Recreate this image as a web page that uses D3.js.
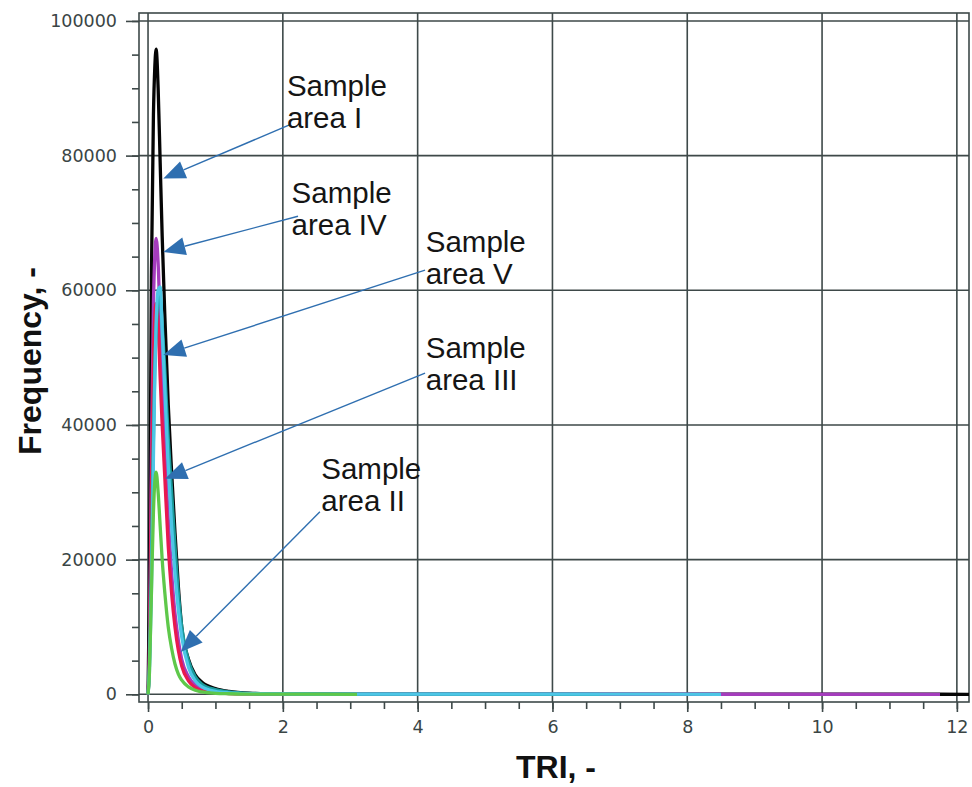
<!DOCTYPE html>
<html>
<head>
<meta charset="utf-8">
<script src="https://cdn.jsdelivr.net/npm/d3@7"></script>
<style>
  html, body { margin: 0; padding: 0; background: #fff; }
  svg { display: block; }
</style>
</head>
<body>
<svg id="chart" width="972" height="787"></svg>
<script>
// ---------------- DATA ----------------
const tri = [0, 0.02, 0.05, 0.08, 0.1, 0.12, 0.15, 0.18, 0.21, 0.25, 0.3, 0.35, 0.4, 0.45, 0.5, 0.6, 0.7, 0.8, 1.0, 1.2, 1.5, 2.0, 3.1, 4, 6.7, 8.5, 11.75, 12.18];

const freqBlack   = [0, 15000, 62000, 86000, 93000, 95800, 90000, 79000, 68000, 56000, 43000, 33000, 24000, 16000, 10000, 5200, 2900, 1800, 850, 420, 160, 60, 30, 20, 15, 10, 5, 0];
const freqMagenta = [0, 6000, 35000, 58000, 65000, 67700, 64000, 55000, 46000, 36000, 26000, 18000, 12000, 8000, 5200, 2600, 1400, 800, 350, 180, 80, 40, 25, 20, 15, 10, 0, null];
const freqRed     = [0, 5000, 30000, 50000, 56000, 58000, 55000, 47000, 40000, 32000, 22000, 15000, 10000, 6500, 4200, 2000, 1000, 550, 250, 120, 60, 0, null, null, null, null, null, null];
const freqTeal    = [0, 4000, 20000, 38000, 48000, 54000, 58500, 59000, 55000, 48000, 38000, 30000, 22000, 15000, 10000, 5000, 2600, 1500, 700, 350, 140, 60, 30, 20, 0, null, null, null];
const freqCyan    = [0, 3000, 15000, 35000, 47000, 55000, 60000, 60500, 54000, 45000, 34000, 25000, 18000, 12500, 8500, 4000, 2000, 1100, 450, 220, 100, 50, 30, 25, 20, 0, null, null];
const freqGreen   = [0, 3000, 15000, 27000, 31500, 33000, 30000, 25000, 20000, 15000, 10000, 6800, 4500, 3000, 2100, 1100, 600, 350, 150, 80, 40, 25, 0, null, null, null, null, null];

const seriesValues = [freqBlack, freqMagenta, freqRed, freqTeal, freqCyan, freqGreen];
const seriesColors = ["#050505", "#a43cbc", "#e8194f", "#1a9b9b", "#4cc6e6", "#5ec84a"];

const xTicks = [0, 2, 4, 6, 8, 10, 12];
const xMinorTicks = d3.range(0, 12.01, 0.5);
const yTicks = [0, 20000, 40000, 60000, 80000, 100000];
const yMinorTicks = d3.range(0, 100001, 5000);

// annotation labels (data coordinates): text lines, label anchor, arrow start, arrow tip
const annLines  = [["Sample", "area I"], ["Sample", "area IV"], ["Sample", "area V"], ["Sample", "area III"], ["Sample", "area II"]];
const annLabelX = [2.06, 2.13, 4.12, 4.12, 2.57];
const annLabelY = [88900, 72900, 65700, 49900, 32000];
const annFromX  = [2.107, 2.225, 4.11, 4.11, 2.55];
const annFromY  = [84600, 71000, 63000, 47700, 27100];
const annTipX   = [0.227, 0.227, 0.227, 0.252, 0.485];
const annTipY   = [76600, 65700, 50400, 32000, 6300];

// ---------------- LAYOUT ----------------
const svg = d3.select("#chart");
const frame = { left: 139, right: 969, top: 13, bottom: 702 };
const x = d3.scaleLinear().domain([-0.134, 12.18]).range([frame.left, frame.right]);
const y = d3.scaleLinear().domain([-1143, 101180]).range([frame.bottom, frame.top]);

const gridColor = "#3e4949";
const labelColor = "#3a4545";

// gridlines
svg.append("g").selectAll("line").data(xTicks).join("line")
  .attr("x1", d => x(d)).attr("x2", d => x(d))
  .attr("y1", frame.top).attr("y2", frame.bottom)
  .attr("stroke", gridColor).attr("stroke-width", 1.6);
svg.append("g").selectAll("line").data(yTicks).join("line")
  .attr("y1", d => y(d)).attr("y2", d => y(d))
  .attr("x1", frame.left).attr("x2", frame.right)
  .attr("stroke", gridColor).attr("stroke-width", 1.6);

// frame
svg.append("rect")
  .attr("x", frame.left).attr("y", frame.top)
  .attr("width", frame.right - frame.left).attr("height", frame.bottom - frame.top)
  .attr("fill", "none").attr("stroke", gridColor).attr("stroke-width", 1.6);

// axes
function styleAxis(g) {
  g.select(".domain").remove();
  g.selectAll(".tick line").attr("stroke", gridColor).attr("stroke-width", 1.6);
  g.selectAll(".tick text").attr("fill", labelColor)
    .style("font-family", "'DejaVu Sans', sans-serif").style("font-size", "17.5px");
}
svg.append("g").attr("transform", `translate(0,${frame.bottom})`)
  .call(d3.axisBottom(x).tickValues(xMinorTicks).tickSize(7).tickFormat(""))
  .call(styleAxis);
svg.append("g").attr("transform", `translate(0,${frame.bottom})`)
  .call(d3.axisBottom(x).tickValues(xTicks).tickSize(10).tickPadding(9).tickFormat(d3.format("d")))
  .call(styleAxis);
svg.append("g").attr("transform", `translate(${frame.left},0)`)
  .call(d3.axisLeft(y).tickValues(yMinorTicks).tickSize(7).tickFormat(""))
  .call(styleAxis);
svg.append("g").attr("transform", `translate(${frame.left},0)`)
  .call(d3.axisLeft(y).tickValues(yTicks).tickSize(13).tickPadding(9).tickFormat(d3.format("d")))
  .call(styleAxis);

// curves
const line = d3.line()
  .x(d => x(d[0])).y(d => y(d[1]))
  .curve(d3.curveMonotoneX);

svg.append("clipPath").attr("id", "plotclip").append("rect")
  .attr("x", frame.left).attr("y", frame.top)
  .attr("width", frame.right - frame.left).attr("height", frame.bottom - frame.top);

const curves = svg.append("g").attr("clip-path", "url(#plotclip)");
seriesValues.forEach((vals, i) => {
  const pts = tri.map((t, j) => [t, vals[j]]).filter(p => p[1] !== null);
  curves.append("path")
    .attr("d", line(pts))
    .attr("fill", "none")
    .attr("stroke", seriesColors[i])
    .attr("stroke-width", 3.3)
    .attr("stroke-linejoin", "round");
});

// annotations
const arrowColor = "#2f6fb0";
const ann = svg.append("g");
annLines.forEach((lines, i) => {
  const x0 = x(annFromX[i]), y0 = y(annFromY[i]);
  const x1 = x(annTipX[i]), y1 = y(annTipY[i]);
  const ang = Math.atan2(y1 - y0, x1 - x0);
  const headLen = 22, headHalf = 9;
  const bx = x1 - headLen * Math.cos(ang), by = y1 - headLen * Math.sin(ang);
  ann.append("line")
    .attr("x1", x0).attr("y1", y0).attr("x2", bx).attr("y2", by)
    .attr("stroke", arrowColor).attr("stroke-width", 1.4);
  const px = -Math.sin(ang), py = Math.cos(ang);
  ann.append("path")
    .attr("d", `M${x1},${y1}L${bx + px * headHalf},${by + py * headHalf}L${bx - px * headHalf},${by - py * headHalf}Z`)
    .attr("fill", arrowColor);
  const t = ann.append("text")
    .attr("x", x(annLabelX[i])).attr("y", y(annLabelY[i]))
    .attr("fill", "#151515")
    .style("font-family", "'Liberation Sans', Arial, sans-serif")
    .style("font-size", "29.5px");
  lines.forEach((s, k) => {
    t.append("tspan").attr("x", x(annLabelX[i])).attr("dy", k === 0 ? 0 : 32).text(s);
  });
});

// axis titles
svg.append("text")
  .attr("transform", "translate(41,361) rotate(-90)")
  .attr("text-anchor", "middle")
  .attr("fill", "#111")
  .style("font-family", "'Liberation Sans', Arial, sans-serif")
  .style("font-weight", "bold").style("font-size", "32px")
  .text("Frequency, -");
svg.append("text")
  .attr("x", 556).attr("y", 778)
  .attr("text-anchor", "middle")
  .attr("fill", "#111")
  .style("font-family", "'Liberation Sans', Arial, sans-serif")
  .style("font-weight", "bold").style("font-size", "32px")
  .text("TRI, -");
</script>
</body>
</html>
